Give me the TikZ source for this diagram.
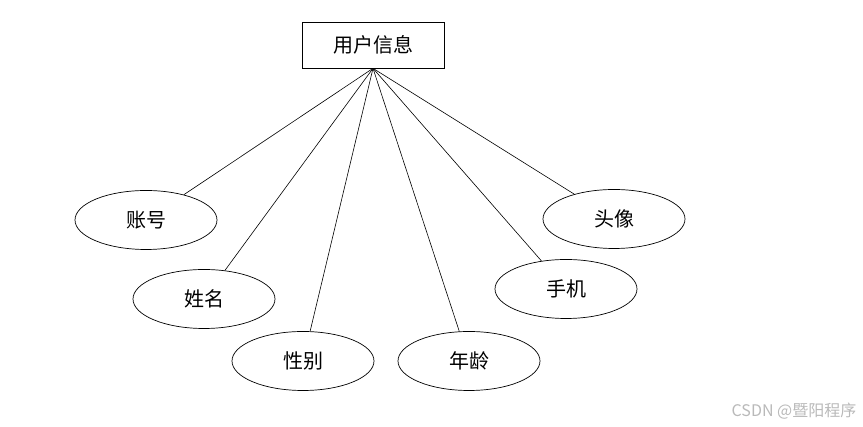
\documentclass[tikz,border=0pt]{standalone}
\usepackage{fontspec}
\newfontfamily\cjk{Noto Sans CJK SC}
\usetikzlibrary{shapes.geometric}
\begin{document}
\begin{tikzpicture}[x=1pt,y=1pt]
    \tikzstyle{every node}=[align=center, font=\cjk\fontsize{20}{22}\selectfont];
    \tikzstyle{entity} = [draw, line width=0.7pt, minimum width=142pt, minimum height=46pt, inner sep=0pt]
    \tikzstyle{attr} = [draw, ellipse, line width=0.7pt, minimum width=142pt, minimum height=59pt, inner sep=0pt]
    \tikzstyle{link} = [line width=0.6pt]

    \useasboundingbox (0,0) rectangle (863,427);

    \node[entity] (User) at (373,382) {用户信息};
    \node[attr] (Account) at (146,207) {账号};
    \node[attr] (Name) at (204,128) {姓名};
    \node[attr] (Gender) at (303,66) {性别};
    \node[attr] (Age) at (469,66) {年龄};
    \node[attr] (Phone) at (566,138) {手机};
    \node[attr] (Avatar) at (614,208) {头像};

    \draw[link] (User.south) -- (Account);
    \draw[link] (User.south) -- (Name);
    \draw[link] (User.south) -- (Gender);
    \draw[link] (User.south) -- (Age);
    \draw[link] (User.south) -- (Phone);
    \draw[link] (User.south) -- (Avatar);

    %watermark
    \node[font=\cjk\fontsize{16}{18}\selectfont, text=gray!55] (Mark) at (794,16) {CSDN @暨阳程序};

\end{tikzpicture}
\end{document}
